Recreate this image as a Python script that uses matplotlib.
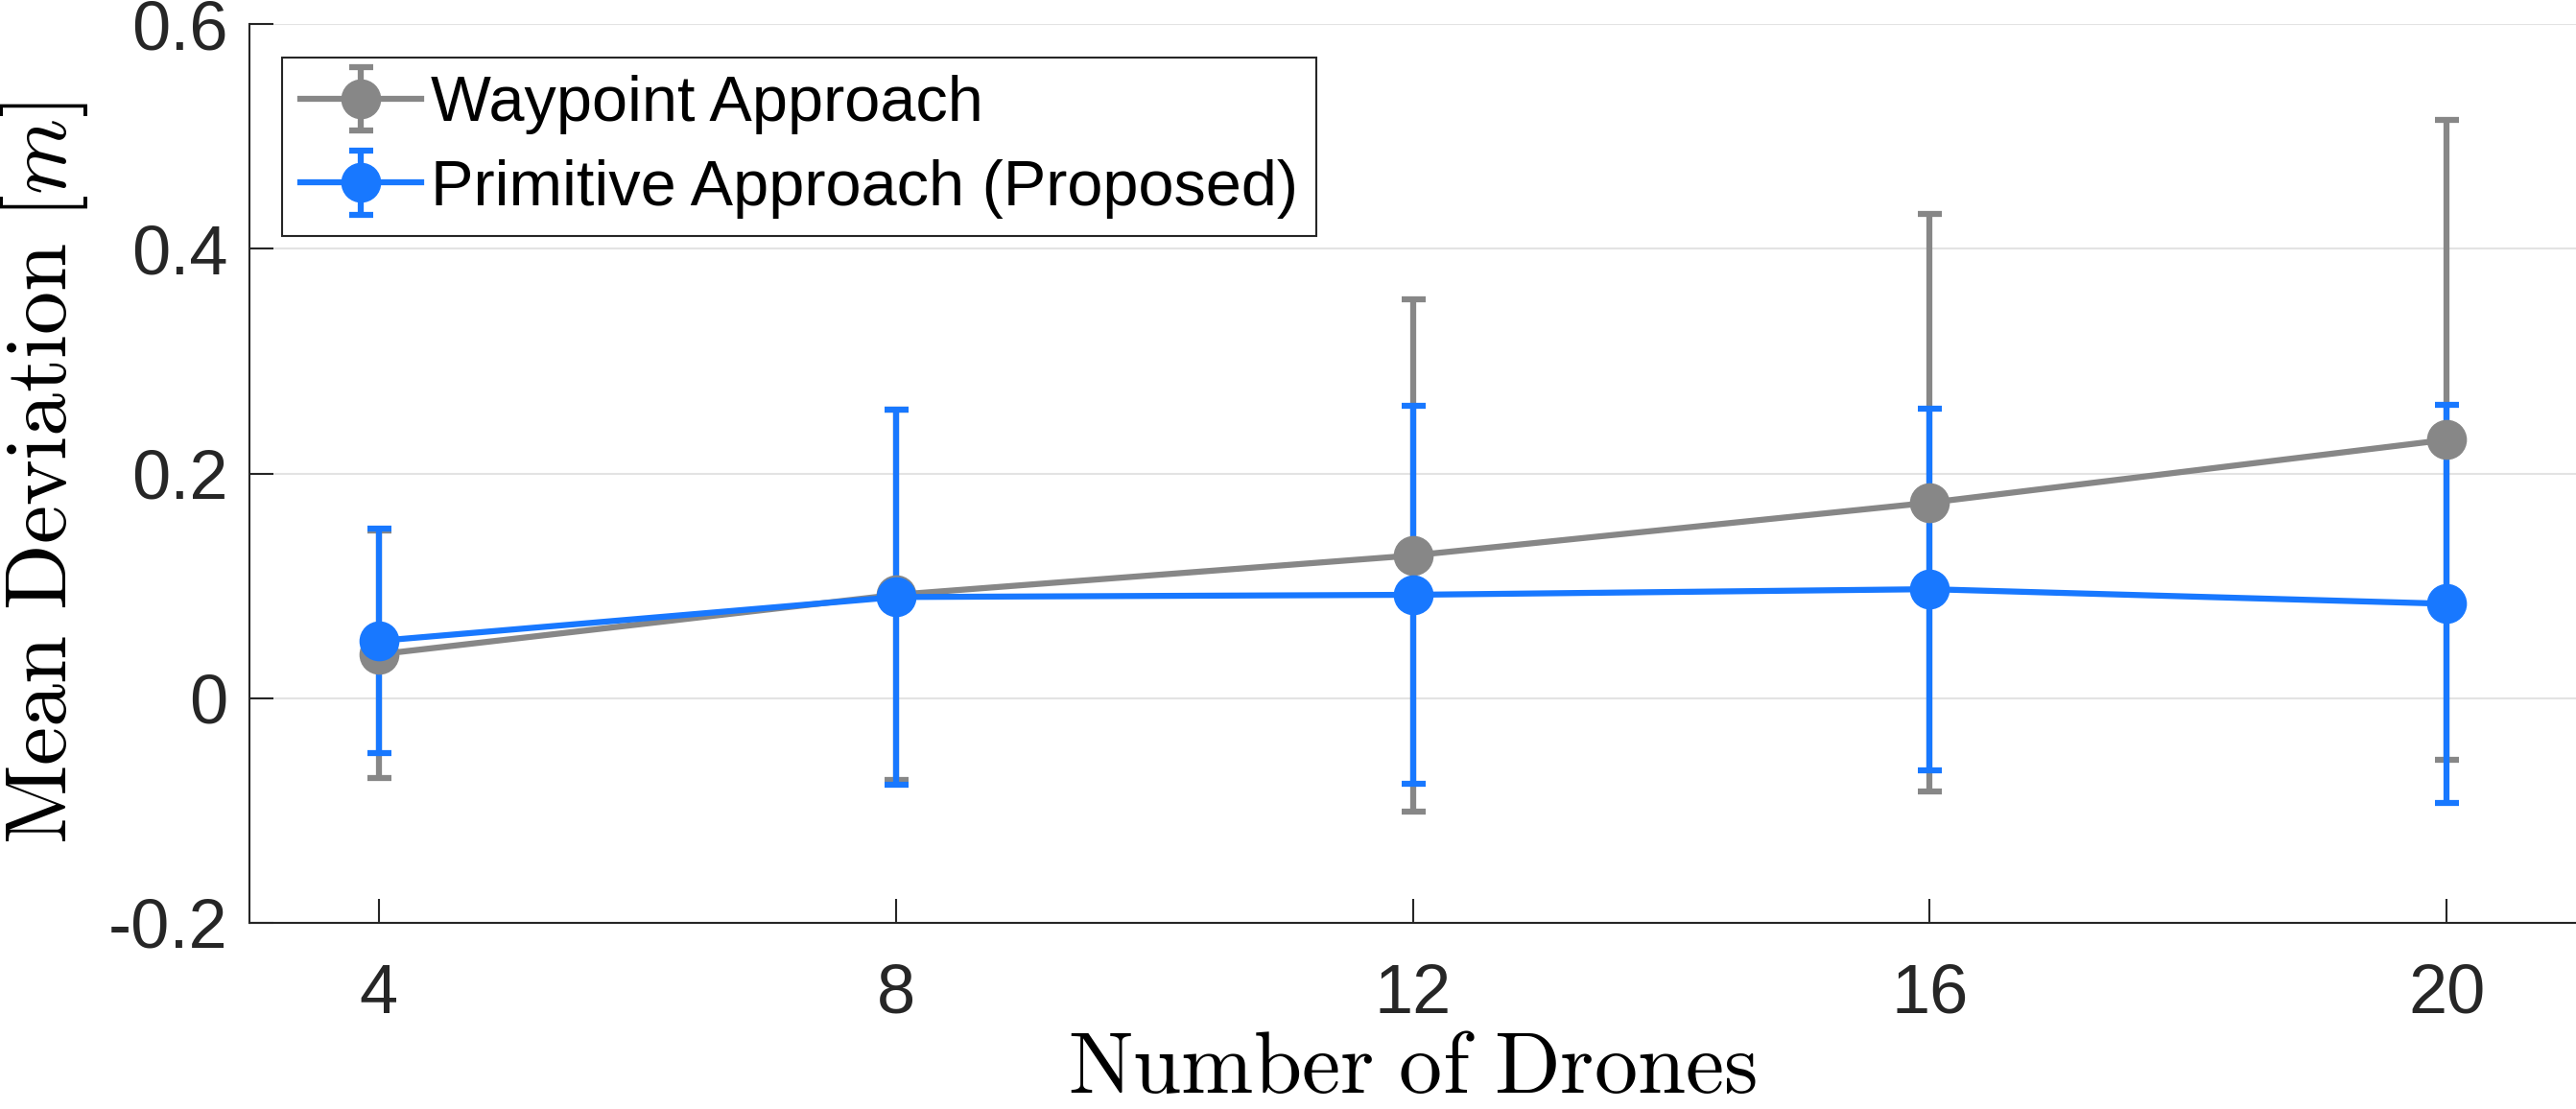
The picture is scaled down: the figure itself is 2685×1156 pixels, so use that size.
import numpy as np
import matplotlib.pyplot as plt

# drones vs mean deviation
n_drones = [4, 8, 12, 16, 20]

waypoint_mean = [0.039, 0.092, 0.127, 0.174, 0.230]
waypoint_std = [0.110, 0.165, 0.228, 0.257, 0.285]

primitive_mean = [0.051, 0.090, 0.092, 0.097, 0.084]
primitive_std = [0.100, 0.167, 0.168, 0.161, 0.177]

GRAY = "#878787"
BLUE = "#1878FF"

plt.rcParams["font.family"] = ["Liberation Sans", "DejaVu Sans"]
plt.rcParams["mathtext.fontset"] = "cm"

fig = plt.figure(figsize=(26.85, 11.56), dpi=100)
ax = fig.add_axes([260 / 2685, 1 - 962 / 1156, 1 - 260 / 2685, (962 - 25) / 1156])

style = dict(lw=4.5, ms=29, marker="o", capsize=9, capthick=4.5, elinewidth=4.5)
ax.errorbar(n_drones, waypoint_mean, yerr=waypoint_std, color=GRAY,
            label="Waypoint Approach", **style)
ax.errorbar(n_drones, primitive_mean, yerr=primitive_std, color=BLUE,
            label="Primitive Approach (Proposed)", **style)

ax.set_xlim(3, 21)
ax.set_ylim(-0.2, 0.6)
ax.set_xticks(n_drones)
ax.set_yticks([-0.2, 0, 0.2, 0.4, 0.6])
ax.set_yticklabels(["-0.2", "0", "0.2", "0.4", "0.6"])

ax.grid(axis="y", color="#e3e3e3", lw=1.5)
ax.set_axisbelow(True)
for side in ["top", "right"]:
    ax.spines[side].set_visible(False)
for side in ["left", "bottom"]:
    ax.spines[side].set_color("#262626")
    ax.spines[side].set_linewidth(1.5)

ax.tick_params(direction="in", length=18, width=1.5, colors="#262626",
               labelsize=52)
ax.tick_params(axis="x", pad=30)
ax.tick_params(axis="y", pad=16)

ax.set_xlabel(r"$\mathrm{Number\ of\ Drones}$", fontsize=65, labelpad=2)
ax.set_ylabel(r"$\mathrm{Mean\ Deviation}\ [m]$", fontsize=65, labelpad=14)

leg = ax.legend(loc="upper left", bbox_to_anchor=(0.014, 0.963),
                borderaxespad=0, fontsize=48, fancybox=False, framealpha=1,
                edgecolor="#262626", handlelength=1.9, handletextpad=0.15,
                labelspacing=0.38, borderpad=0.28)
leg.get_frame().set_linewidth(1.5)

fig.savefig("out.png", dpi=100)
